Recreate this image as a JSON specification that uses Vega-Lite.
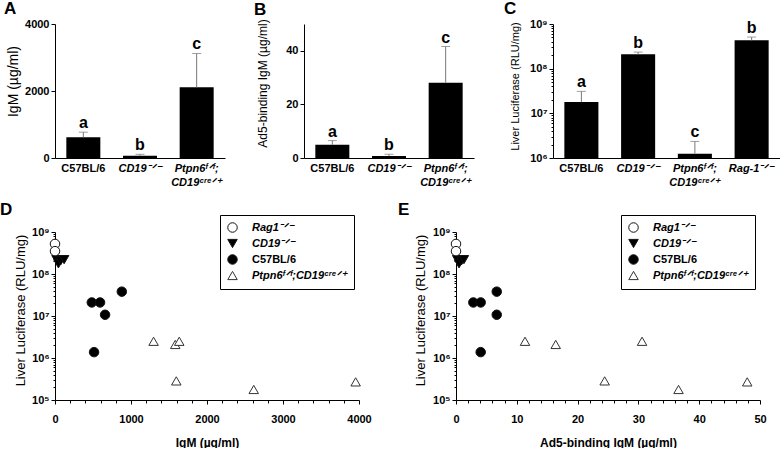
{
  "$schema": "https://vega.github.io/schema/vega-lite/v6.json",
  "background": "white",
  "padding": {"left": 0, "top": 0, "right": 0, "bottom": 0},
  "spacing": 13,
  "config": {
    "font": "Liberation Sans",
    "view": {"stroke": null},
    "axis": {
      "domainColor": "black", "tickColor": "black", "labelColor": "black", "titleColor": "black",
      "labelFont": "Liberation Sans", "labelFontWeight": "bold", "labelFontSize": 11,
      "titleFont": "Liberation Sans", "titleFontSize": 13, "titleFontWeight": "normal",
      "grid": false, "labelOverlap": false, "labelBound": false, "labelFlush": false
    },
    "legend": {
      "labelFontStyle": {"expr": "datum.value == 'C57BL/6' ? 'normal' : 'italic'"},
      "orient": "none", "legendX": 165, "legendY": -17, "title": null, "strokeColor": "black", "fillColor": "white", "padding": 7,
      "labelFontSize": 11, "labelFontWeight": "bold", "labelFont": "Liberation Sans", "labelColor": "black", "symbolSize": 90, "symbolStrokeWidth": 1,
      "rowPadding": 2, "labelOffset": 14
    },
    "title": {"fontSize": 17, "fontWeight": "bold", "anchor": "start", "frame": "group", "font": "Liberation Sans", "color": "black"}
  },
  "datasets": {
    "igm": [
      {"genotype": "C57BL/6", "mean": 620, "upper": 770, "letter": "a"},
      {"genotype": "CD19-/-", "mean": 65, "upper": 110, "letter": "b"},
      {"genotype": "Ptpn6f/f;CD19cre/+", "mean": 2110, "upper": 3120, "letter": "c"}
    ],
    "ad5": [
      {"genotype": "C57BL/6", "mean": 4.9, "upper": 6.5, "letter": "a"},
      {"genotype": "CD19-/-", "mean": 0.7, "upper": 1.4, "letter": "b"},
      {"genotype": "Ptpn6f/f;CD19cre/+", "mean": 28.1, "upper": 41.6, "letter": "c"}
    ],
    "luc": [
      {"genotype": "C57BL/6", "mean": 18000000, "upper": 31000000, "letter": "a"},
      {"genotype": "CD19-/-", "mean": 210000000, "upper": 235000000, "letter": "b"},
      {"genotype": "Ptpn6f/f;CD19cre/+", "mean": 1250000, "upper": 2350000, "letter": "c"},
      {"genotype": "Rag-1-/-", "mean": 430000000, "upper": 510000000, "letter": "b"}
    ],
    "mice": [
      {"group": "C57BL/6", "igm": 484, "ad5": 2.85, "luc": 21000000},
      {"group": "C57BL/6", "igm": 593, "ad5": 4.06, "luc": 21000000},
      {"group": "C57BL/6", "igm": 659, "ad5": 6.7, "luc": 10700000},
      {"group": "C57BL/6", "igm": 879, "ad5": 6.7, "luc": 38000000},
      {"group": "C57BL/6", "igm": 514, "ad5": 4.06, "luc": 1380000},
      {"group": "Ptpn6f/f;CD19cre/+", "igm": 1297, "ad5": 11.35, "luc": 2500000},
      {"group": "Ptpn6f/f;CD19cre/+", "igm": 1582, "ad5": 16.4, "luc": 2100000},
      {"group": "Ptpn6f/f;CD19cre/+", "igm": 1635, "ad5": 30.6, "luc": 2500000},
      {"group": "Ptpn6f/f;CD19cre/+", "igm": 1596, "ad5": 24.45, "luc": 285000},
      {"group": "Ptpn6f/f;CD19cre/+", "igm": 2615, "ad5": 36.6, "luc": 178000},
      {"group": "Ptpn6f/f;CD19cre/+", "igm": 3956, "ad5": 47.9, "luc": 270000},
      {"group": "CD19-/-", "igm": 20, "ad5": 0.2, "luc": 220000000},
      {"group": "CD19-/-", "igm": 45, "ad5": 0.5, "luc": 175000000},
      {"group": "CD19-/-", "igm": 75, "ad5": 0.9, "luc": 205000000},
      {"group": "CD19-/-", "igm": 120, "ad5": 1.3, "luc": 220000000},
      {"group": "Rag1-/-", "igm": 0, "ad5": 0, "luc": 520000000},
      {"group": "Rag1-/-", "igm": 0, "ad5": 0, "luc": 350000000}
    ]
  },
  "vconcat": [
    {
      "bounds": "flush",
      "spacing": 79,
      "hconcat": [
        {
          "width": 170, "height": 134,
          "title": {"text": "A", "dx": -51, "dy": 4},
          "data": {"name": "igm"},
          "encoding": {
            "x": {"field": "genotype", "type": "nominal", "sort": null,
              "scale": {"paddingInner": 0.4, "paddingOuter": 0.2},
              "axis": {"title": null, "ticks": false, "labelAngle": 0, "labelPadding": 4, "labelBaseline": "top", "labelLineHeight": 14,
                "labelExpr": "datum.value == 'CD19-/-' ? 'CD19⁻ᐟ⁻' : datum.value == 'Ptpn6f/f;CD19cre/+' ? ['Ptpn6ᶠᐟᶠ;', 'CD19ᶜʳᵉᐟ⁺'] : datum.value == 'Rag-1-/-' ? 'Rag-1⁻ᐟ⁻' : datum.label",
                "labelFontStyle": {"condition": {"test": "datum.value == 'C57BL/6'", "value": "normal"}, "value": "italic"}}}
          },
          "layer": [
            {"mark": {"type": "bar", "color": "black"},
             "encoding": {"y": {"field": "mean", "type": "quantitative", "scale": {"domain": [0, 4000], "nice": false},
               "axis": {"title": "IgM (µg/ml)", "titleFontSize": 14, "titleX": -35, "titleY": 57, "format": "d",
                 "values": [0, 500, 1000, 1500, 2000, 2500, 3000, 3500, 4000],
                 "labelExpr": "datum.value % 1000 == 0 ? datum.label : ''",
                 "tickSize": {"condition": {"test": "datum.value % 1000 == 0", "value": 4}, "value": 3}}}}},
            {"mark": {"type": "rule", "color": "#777"},
             "encoding": {"y": {"field": "mean", "type": "quantitative", "scale": {"domain": [0, 4000], "nice": false}}, "y2": {"field": "upper"}}},
            {"mark": {"type": "tick", "color": "#777", "thickness": 1, "size": 9},
             "encoding": {"y": {"field": "upper", "type": "quantitative", "scale": {"domain": [0, 4000], "nice": false}}}},
            {"mark": {"type": "text", "fontSize": 16, "fontWeight": "bold", "baseline": "alphabetic", "dy": -4, "font": "Liberation Sans"},
             "encoding": {"y": {"field": "upper", "type": "quantitative", "scale": {"domain": [0, 4000], "nice": false}}, "text": {"field": "letter"}}}
          ]
        },
        {
          "width": 170, "height": 134,
          "title": {"text": "B", "dx": -50, "dy": 4},
          "data": {"name": "ad5"},
          "encoding": {
            "x": {"field": "genotype", "type": "nominal", "sort": null,
              "scale": {"paddingInner": 0.4, "paddingOuter": 0.2},
              "axis": {"title": null, "ticks": false, "labelAngle": 0, "labelPadding": 4, "labelBaseline": "top", "labelLineHeight": 14,
                "labelExpr": "datum.value == 'CD19-/-' ? 'CD19⁻ᐟ⁻' : datum.value == 'Ptpn6f/f;CD19cre/+' ? ['Ptpn6ᶠᐟᶠ;', 'CD19ᶜʳᵉᐟ⁺'] : datum.value == 'Rag-1-/-' ? 'Rag-1⁻ᐟ⁻' : datum.label",
                "labelFontStyle": {"condition": {"test": "datum.value == 'C57BL/6'", "value": "normal"}, "value": "italic"}}}
          },
          "layer": [
            {"mark": {"type": "bar", "color": "black"},
             "encoding": {"y": {"field": "mean", "type": "quantitative", "scale": {"domain": [0, 50], "nice": false},
               "axis": {"title": "Ad5-binding IgM (µg/ml)", "titleFontSize": 12, "titleX": -35, "titleY": 59, "format": "d",
                 "values": [0, 5, 10, 15, 20, 25, 30, 35, 40, 45, 50],
                 "labelExpr": "datum.value % 10 == 0 ? datum.label : ''",
                 "tickSize": {"condition": {"test": "datum.value % 10 == 0", "value": 4}, "value": 3}}}}},
            {"mark": {"type": "rule", "color": "#777"},
             "encoding": {"y": {"field": "mean", "type": "quantitative", "scale": {"domain": [0, 50], "nice": false}}, "y2": {"field": "upper"}}},
            {"mark": {"type": "tick", "color": "#777", "thickness": 1, "size": 9},
             "encoding": {"y": {"field": "upper", "type": "quantitative", "scale": {"domain": [0, 50], "nice": false}}}},
            {"mark": {"type": "text", "fontSize": 16, "fontWeight": "bold", "baseline": "alphabetic", "dy": -4, "font": "Liberation Sans"},
             "encoding": {"y": {"field": "upper", "type": "quantitative", "scale": {"domain": [0, 50], "nice": false}}, "text": {"field": "letter"}}}
          ]
        },
        {
          "width": 227, "height": 134,
          "title": {"text": "C", "dx": -49, "dy": 4},
          "data": {"name": "luc"},
          "encoding": {
            "x": {"field": "genotype", "type": "nominal", "sort": null,
              "scale": {"paddingInner": 0.4, "paddingOuter": 0.2},
              "axis": {"title": null, "ticks": false, "labelAngle": 0, "labelPadding": 4, "labelBaseline": "top", "labelLineHeight": 14,
                "labelExpr": "datum.value == 'CD19-/-' ? 'CD19⁻ᐟ⁻' : datum.value == 'Ptpn6f/f;CD19cre/+' ? ['Ptpn6ᶠᐟᶠ;', 'CD19ᶜʳᵉᐟ⁺'] : datum.value == 'Rag-1-/-' ? 'Rag-1⁻ᐟ⁻' : datum.label",
                "labelFontStyle": {"condition": {"test": "datum.value == 'C57BL/6'", "value": "normal"}, "value": "italic"}}}
          },
          "layer": [
            {"mark": {"type": "bar", "color": "black"},
             "encoding": {"y": {"field": "mean", "type": "quantitative", "scale": {"type": "log", "domain": [1000000, 1000000000], "nice": false},
               "axis": {"title": "Liver Luciferase (RLU/mg)", "titleFontSize": 11, "titleX": -33, "titleY": 62,
                 "values": [1000000, 2000000, 3000000, 4000000, 5000000, 6000000, 7000000, 8000000, 9000000, 10000000, 20000000, 30000000, 40000000, 50000000, 60000000, 70000000, 80000000, 90000000, 100000000, 200000000, 300000000, 400000000, 500000000, 600000000, 700000000, 800000000, 900000000, 1000000000],
                 "labelExpr": "abs(log(datum.value)/LN10 - round(log(datum.value)/LN10)) < 0.001 ? '10' + ['⁰','¹','²','³','⁴','⁵','⁶','⁷','⁸','⁹'][round(log(datum.value)/LN10)] : ''",
                 "tickSize": {"condition": {"test": "abs(log(datum.value)/LN10 - round(log(datum.value)/LN10)) < 0.001", "value": 4}, "value": 2}}},
               "y2": {"datum": 1000000}}},
            {"mark": {"type": "rule", "color": "#777"},
             "encoding": {"y": {"field": "mean", "type": "quantitative", "scale": {"type": "log", "domain": [1000000, 1000000000], "nice": false}}, "y2": {"field": "upper"}}},
            {"mark": {"type": "tick", "color": "#777", "thickness": 1, "size": 9},
             "encoding": {"y": {"field": "upper", "type": "quantitative", "scale": {"type": "log", "domain": [1000000, 1000000000], "nice": false}}}},
            {"mark": {"type": "text", "fontSize": 16, "fontWeight": "bold", "baseline": "alphabetic", "dy": -4, "font": "Liberation Sans"},
             "encoding": {"y": {"field": "upper", "type": "quantitative", "scale": {"type": "log", "domain": [1000000, 1000000000], "nice": false}}, "text": {"field": "letter"}}}
          ]
        }
      ]
    },
    {
      "bounds": "flush",
      "spacing": 97,
      "resolve": {"scale": {"shape": "independent", "fill": "independent", "stroke": "independent"}, "legend": {"shape": "independent", "fill": "independent", "stroke": "independent"}},
      "hconcat": [
        {
          "width": 304, "height": 168,
          "title": {"text": "D", "dx": -55, "dy": 8},
          "data": {"name": "mice"},
          "mark": {"type": "point", "filled": false, "strokeWidth": 1, "size": 90, "opacity": 1},
          "encoding": {
            "x": {"field": "igm", "type": "quantitative", "scale": {"domain": [0, 4000], "nice": false},
              "axis": {"title": "IgM (µg/ml)", "titleFontWeight": "bold", "titleFontSize": 12, "titlePadding": 13, "format": "d",
                "values": [0, 200, 400, 600, 800, 1000, 1200, 1400, 1600, 1800, 2000, 2200, 2400, 2600, 2800, 3000, 3200, 3400, 3600, 3800, 4000],
                "labelExpr": "datum.value % 1000 == 0 ? datum.label : ''", "labelPadding": 9,
                "tickSize": {"condition": {"test": "datum.value % 1000 == 0", "value": 4}, "value": 3}}},
            "y": {"field": "luc", "type": "quantitative", "scale": {"type": "log", "domain": [100000, 1000000000], "nice": false},
              "axis": {"title": "Liver Luciferase (RLU/mg)", "titleX": -28, "titleY": 78,
                "values": [100000, 200000, 300000, 400000, 500000, 600000, 700000, 800000, 900000, 1000000, 2000000, 3000000, 4000000, 5000000, 6000000, 7000000, 8000000, 9000000, 10000000, 20000000, 30000000, 40000000, 50000000, 60000000, 70000000, 80000000, 90000000, 100000000, 200000000, 300000000, 400000000, 500000000, 600000000, 700000000, 800000000, 900000000, 1000000000],
                "labelExpr": "abs(log(datum.value)/LN10 - round(log(datum.value)/LN10)) < 0.001 ? '10' + ['⁰','¹','²','³','⁴','⁵','⁶','⁷','⁸','⁹'][round(log(datum.value)/LN10)] : ''",
                "tickSize": {"condition": {"test": "abs(log(datum.value)/LN10 - round(log(datum.value)/LN10)) < 0.001", "value": 4}, "value": 2}}},
            "shape": {"field": "group", "type": "nominal",
              "scale": {"domain": ["Rag1-/-", "CD19-/-", "C57BL/6", "Ptpn6f/f;CD19cre/+"], "range": ["circle", "triangle-down", "circle", "triangle-up"]},
              "legend": {"labelExpr": "datum.value == 'Rag1-/-' ? 'Rag1⁻ᐟ⁻' : datum.value == 'CD19-/-' ? 'CD19⁻ᐟ⁻' : datum.value == 'C57BL/6' ? 'C57BL/6' : 'Ptpn6ᶠᐟᶠ;CD19ᶜʳᵉᐟ⁺'"}},
            "fill": {"field": "group", "type": "nominal",
              "scale": {"domain": ["Rag1-/-", "CD19-/-", "C57BL/6", "Ptpn6f/f;CD19cre/+"], "range": ["white", "black", "black", "white"]},
              "legend": {"labelExpr": "datum.value == 'Rag1-/-' ? 'Rag1⁻ᐟ⁻' : datum.value == 'CD19-/-' ? 'CD19⁻ᐟ⁻' : datum.value == 'C57BL/6' ? 'C57BL/6' : 'Ptpn6ᶠᐟᶠ;CD19ᶜʳᵉᐟ⁺'"}},
            "stroke": {"field": "group", "type": "nominal",
              "scale": {"domain": ["Rag1-/-", "CD19-/-", "C57BL/6", "Ptpn6f/f;CD19cre/+"], "range": ["#111", "#111", "#111", "#333"]},
              "legend": {"labelExpr": "datum.value == 'Rag1-/-' ? 'Rag1⁻ᐟ⁻' : datum.value == 'CD19-/-' ? 'CD19⁻ᐟ⁻' : datum.value == 'C57BL/6' ? 'C57BL/6' : 'Ptpn6ᶠᐟᶠ;CD19ᶜʳᵉᐟ⁺'"}}
          }
        },
        {
          "width": 304, "height": 168,
          "title": {"text": "E", "dx": -58, "dy": 8},
          "data": {"name": "mice"},
          "mark": {"type": "point", "filled": false, "strokeWidth": 1, "size": 90, "opacity": 1},
          "encoding": {
            "x": {"field": "ad5", "type": "quantitative", "scale": {"domain": [0, 50], "nice": false},
              "axis": {"title": "Ad5-binding IgM (µg/ml)", "titleFontWeight": "bold", "titleFontSize": 12, "titlePadding": 13, "format": "d",
                "values": [0, 2, 4, 6, 8, 10, 12, 14, 16, 18, 20, 22, 24, 26, 28, 30, 32, 34, 36, 38, 40, 42, 44, 46, 48, 50],
                "labelExpr": "datum.value % 10 == 0 ? datum.label : ''", "labelPadding": 9,
                "tickSize": {"condition": {"test": "datum.value % 10 == 0", "value": 4}, "value": 3}}},
            "y": {"field": "luc", "type": "quantitative", "scale": {"type": "log", "domain": [100000, 1000000000], "nice": false},
              "axis": {"title": "Liver Luciferase (RLU/mg)", "titleX": -29, "titleY": 78,
                "values": [100000, 200000, 300000, 400000, 500000, 600000, 700000, 800000, 900000, 1000000, 2000000, 3000000, 4000000, 5000000, 6000000, 7000000, 8000000, 9000000, 10000000, 20000000, 30000000, 40000000, 50000000, 60000000, 70000000, 80000000, 90000000, 100000000, 200000000, 300000000, 400000000, 500000000, 600000000, 700000000, 800000000, 900000000, 1000000000],
                "labelExpr": "abs(log(datum.value)/LN10 - round(log(datum.value)/LN10)) < 0.001 ? '10' + ['⁰','¹','²','³','⁴','⁵','⁶','⁷','⁸','⁹'][round(log(datum.value)/LN10)] : ''",
                "tickSize": {"condition": {"test": "abs(log(datum.value)/LN10 - round(log(datum.value)/LN10)) < 0.001", "value": 4}, "value": 2}}},
            "shape": {"field": "group", "type": "nominal",
              "scale": {"domain": ["Rag1-/-", "CD19-/-", "C57BL/6", "Ptpn6f/f;CD19cre/+"], "range": ["circle", "triangle-down", "circle", "triangle-up"]},
              "legend": {"labelExpr": "datum.value == 'Rag1-/-' ? 'Rag1⁻ᐟ⁻' : datum.value == 'CD19-/-' ? 'CD19⁻ᐟ⁻' : datum.value == 'C57BL/6' ? 'C57BL/6' : 'Ptpn6ᶠᐟᶠ;CD19ᶜʳᵉᐟ⁺'"}},
            "fill": {"field": "group", "type": "nominal",
              "scale": {"domain": ["Rag1-/-", "CD19-/-", "C57BL/6", "Ptpn6f/f;CD19cre/+"], "range": ["white", "black", "black", "white"]},
              "legend": {"labelExpr": "datum.value == 'Rag1-/-' ? 'Rag1⁻ᐟ⁻' : datum.value == 'CD19-/-' ? 'CD19⁻ᐟ⁻' : datum.value == 'C57BL/6' ? 'C57BL/6' : 'Ptpn6ᶠᐟᶠ;CD19ᶜʳᵉᐟ⁺'"}},
            "stroke": {"field": "group", "type": "nominal",
              "scale": {"domain": ["Rag1-/-", "CD19-/-", "C57BL/6", "Ptpn6f/f;CD19cre/+"], "range": ["#111", "#111", "#111", "#333"]},
              "legend": {"labelExpr": "datum.value == 'Rag1-/-' ? 'Rag1⁻ᐟ⁻' : datum.value == 'CD19-/-' ? 'CD19⁻ᐟ⁻' : datum.value == 'C57BL/6' ? 'C57BL/6' : 'Ptpn6ᶠᐟᶠ;CD19ᶜʳᵉᐟ⁺'"}}
          }
        }
      ]
    }
  ]
}
